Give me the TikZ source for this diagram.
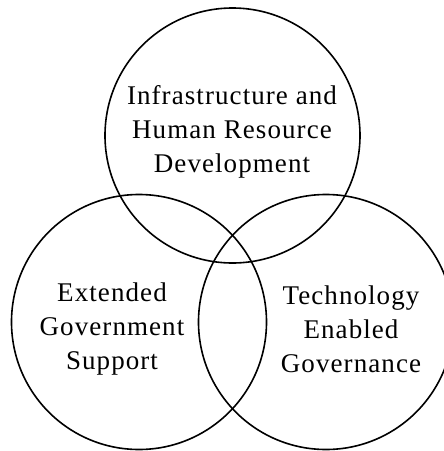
\documentclass[tikz,border=0pt]{standalone}
\usepackage{fontspec}
\setmainfont{Liberation Serif}
\newfontfamily\vennfont[LetterSpace=4]{Liberation Serif}
\begin{document}
\begin{tikzpicture}[x=1pt,y=-1pt,
    ring/.style={draw,line width=1.6pt,circle,minimum size=255pt,inner sep=0pt},
    label/.style={align=center,font=\vennfont\fontsize{27}{34}\selectfont}]
    \useasboundingbox (0,0) rectangle (444,451);
    %Circulos
    \node[ring] (infra) at (232.5,135.5) {};
    \node[ring] (extgov) at (139,322) {};
    \node[ring] (techgov) at (326,322) {};
    %Textos
    \node[label] (infratxt) at (232,132) {Infrastructure and\\Human Resource\\Development};
    \node[label] (extgovtxt) at (112,329) {Extended\\Government\\Support};
    \node[label] (techgovtxt) at (351,329) {Technology\\Enabled\\Governance};
\end{tikzpicture}
\end{document}
